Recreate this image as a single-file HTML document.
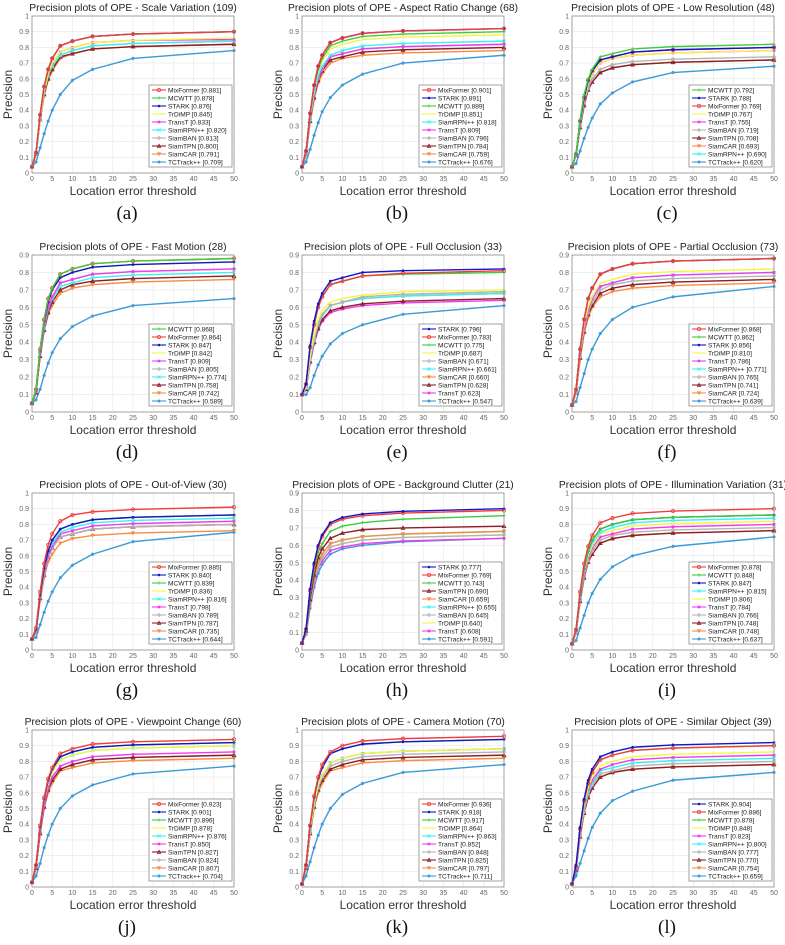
<!DOCTYPE html>
<html><head><meta charset="utf-8"><style>
html,body{margin:0;padding:0;background:#fff;}
svg{display:block;}
</style></head><body>
<svg id="fig" width="785" height="945" viewBox="0 0 785 945" xmlns="http://www.w3.org/2000/svg" font-family="Liberation Sans, sans-serif"></svg>
<script>
const thresholds=[0,1,2,3,4,5,7,10,15,25,50];
const panelTitles=["Scale Variation (109)","Aspect Ratio Change (68)","Low Resolution (48)","Fast Motion (28)","Full Occlusion (33)","Partial Occlusion (73)","Out-of-View (30)","Background Clutter (21)","Illumination Variation (31)","Viewpoint Change (60)","Camera Motion (70)","Similar Object (39)"];
const panelLetters=["(a)","(b)","(c)","(d)","(e)","(f)","(g)","(h)","(i)","(j)","(k)","(l)"];
const panelYMax=[1,1,1,0.9,0.9,0.9,1,0.9,1,1,1,1];

const namesA=["MixFormer","MCWTT","STARK","TrDiMP","TransT","SiamRPN++","SiamBAN","SiamTPN","SiamCAR","TCTrack++"];
const scoresA=[0.881,0.878,0.876,0.845,0.833,0.820,0.813,0.800,0.791,0.709];
const curvesA=[[.04,.13,.37,.55,.66,.73,.81,.84,.87,.885,.90],[.04,.13,.37,.55,.66,.73,.81,.84,.87,.885,.90],[.04,.13,.37,.55,.66,.73,.81,.84,.87,.885,.90],[.04,.13,.35,.52,.63,.70,.77,.80,.83,.845,.86],[.04,.13,.35,.52,.63,.70,.77,.80,.83,.845,.85],[.04,.12,.34,.51,.62,.68,.75,.78,.81,.825,.84],[.04,.12,.34,.51,.62,.68,.75,.78,.81,.825,.84],[.04,.12,.34,.50,.60,.66,.74,.76,.79,.805,.82],[.04,.12,.33,.49,.59,.65,.73,.76,.79,.805,.82],[.04,.07,.16,.25,.33,.40,.50,.59,.66,.73,.78]];

const namesB=["MixFormer","STARK","MCWTT","TrDiMP","SiamRPN++","TransT","SiamBAN","SiamTPN","SiamCAR","TCTrack++"];
const scoresB=[0.901,0.891,0.889,0.851,0.818,0.809,0.796,0.784,0.759,0.676];
const curvesB=[[.04,.14,.38,.56,.68,.75,.83,.86,.89,.905,.92],[.04,.14,.38,.56,.68,.75,.83,.86,.89,.905,.92],[.04,.13,.37,.55,.66,.73,.81,.84,.87,.885,.90],[.04,.13,.36,.53,.65,.71,.79,.82,.85,.865,.88],[.04,.12,.34,.51,.62,.68,.75,.78,.81,.825,.84],[.04,.12,.34,.50,.60,.66,.74,.76,.79,.805,.82],[.04,.12,.34,.50,.60,.66,.74,.76,.79,.805,.82],[.04,.12,.33,.48,.59,.65,.72,.74,.77,.785,.80],[.04,.11,.32,.47,.57,.63,.70,.73,.75,.765,.78],[.04,.07,.15,.24,.32,.39,.48,.56,.63,.70,.75]];

const namesC=["MCWTT","STARK","MixFormer","TrDiMP","TransT","SiamBAN","SiamTPN","SiamCAR","SiamRPN++","TCTrack++"];
const scoresC=[0.792,0.788,0.769,0.767,0.755,0.719,0.708,0.693,0.690,0.620];
const curvesC=[[.04,.12,.34,.50,.60,.66,.74,.76,.79,.805,.82],[.04,.12,.33,.48,.59,.65,.72,.74,.77,.785,.80],[.04,.12,.33,.48,.59,.65,.72,.74,.77,.785,.80],[.04,.11,.32,.47,.57,.63,.70,.73,.75,.765,.78],[.04,.11,.32,.47,.57,.63,.70,.73,.75,.765,.78],[.04,.11,.30,.45,.54,.60,.66,.69,.71,.725,.74],[.04,.11,.29,.43,.53,.58,.64,.67,.69,.705,.72],[.04,.11,.29,.43,.53,.58,.64,.67,.69,.705,.72],[.04,.11,.29,.43,.53,.58,.64,.67,.69,.705,.72],[.04,.06,.14,.22,.29,.35,.44,.51,.58,.64,.68]];

const namesD=["MCWTT","MixFormer","STARK","TrDiMP","TransT","SiamBAN","SiamRPN++","SiamTPN","SiamCAR","TCTrack++"];
const scoresD=[0.868,0.864,0.847,0.842,0.809,0.805,0.774,0.758,0.742,0.589];
const curvesD=[[.05,.13,.36,.53,.65,.71,.79,.82,.85,.865,.88],[.05,.13,.36,.53,.65,.71,.79,.82,.85,.865,.88],[.05,.13,.35,.52,.63,.70,.77,.80,.83,.845,.86],[.05,.13,.35,.52,.63,.70,.77,.80,.83,.845,.86],[.05,.12,.34,.50,.60,.66,.74,.76,.79,.805,.82],[.05,.12,.34,.50,.60,.66,.74,.76,.79,.805,.82],[.05,.12,.33,.48,.59,.65,.72,.74,.77,.785,.80],[.05,.11,.32,.47,.57,.63,.70,.73,.75,.765,.78],[.05,.11,.31,.46,.56,.61,.68,.71,.73,.745,.76],[.05,.07,.13,.21,.28,.34,.42,.49,.55,.61,.65]];

const namesE=["STARK","MixFormer","MCWTT","TrDiMP","SiamBAN","SiamRPN++","SiamCAR","SiamTPN","TransT","TCTrack++"];
const scoresE=[0.796,0.783,0.775,0.687,0.671,0.661,0.660,0.628,0.623,0.547];
const curvesE=[[.10,.16,.38,.52,.62,.68,.75,.77,.80,.81,.82],[.10,.16,.37,.50,.60,.66,.73,.75,.78,.795,.81],[.10,.16,.37,.50,.60,.66,.73,.75,.78,.79,.80],[.10,.14,.32,.44,.53,.58,.63,.65,.67,.69,.70],[.10,.14,.31,.42,.51,.56,.61,.63,.66,.675,.69],[.10,.14,.30,.41,.50,.55,.61,.63,.65,.665,.68],[.10,.14,.30,.41,.50,.55,.61,.63,.65,.665,.68],[.10,.13,.29,.40,.48,.53,.58,.60,.62,.635,.65],[.10,.13,.28,.39,.47,.52,.57,.59,.61,.625,.64],[.10,.10,.14,.21,.27,.32,.39,.45,.50,.56,.61]];

const namesF=["MixFormer","MCWTT","STARK","TrDiMP","TransT","SiamRPN++","SiamBAN","SiamTPN","SiamCAR","TCTrack++"];
const scoresF=[0.868,0.862,0.856,0.810,0.786,0.771,0.765,0.741,0.724,0.639];
const curvesF=[[.04,.13,.36,.53,.65,.71,.79,.82,.85,.865,.88],[.04,.13,.36,.53,.65,.71,.79,.82,.85,.865,.88],[.04,.13,.36,.53,.65,.71,.79,.82,.85,.865,.88],[.04,.12,.34,.50,.60,.66,.74,.76,.79,.805,.82],[.04,.12,.33,.48,.59,.65,.72,.74,.77,.785,.80],[.04,.12,.33,.48,.59,.65,.72,.74,.77,.785,.80],[.04,.11,.32,.47,.57,.63,.70,.73,.75,.765,.78],[.04,.11,.31,.46,.56,.61,.68,.71,.73,.745,.76],[.04,.11,.30,.45,.54,.60,.66,.69,.71,.725,.74],[.04,.06,.14,.22,.30,.36,.45,.53,.60,.66,.72]];

const namesG=["MixFormer","STARK","MCWTT","TrDiMP","SiamRPN++","TransT","SiamBAN","SiamTPN","SiamCAR","TCTrack++"];
const scoresG=[0.885,0.840,0.839,0.836,0.816,0.798,0.789,0.787,0.735,0.644];
const curvesG=[[.07,.14,.37,.55,.67,.74,.82,.86,.88,.895,.91],[.07,.13,.35,.52,.63,.70,.77,.80,.83,.845,.86],[.07,.13,.35,.52,.63,.70,.77,.80,.83,.845,.86],[.07,.13,.35,.52,.63,.70,.77,.80,.83,.845,.86],[.07,.12,.34,.51,.62,.68,.75,.78,.81,.825,.84],[.07,.12,.34,.50,.60,.66,.74,.76,.79,.805,.82],[.07,.12,.33,.48,.59,.65,.72,.74,.77,.785,.80],[.07,.12,.33,.48,.59,.65,.72,.74,.77,.785,.80],[.07,.11,.31,.46,.56,.61,.68,.71,.73,.745,.76],[.07,.08,.16,.24,.31,.37,.46,.54,.61,.69,.75]];

const namesH=["STARK","MixFormer","MCWTT","SiamTPN","SiamCAR","SiamRPN++","SiamBAN","TrDiMP","TransT","TCTrack++"];
const scoresH=[0.777,0.769,0.743,0.690,0.659,0.655,0.645,0.640,0.608,0.591];
const curvesH=[[.04,.12,.35,.50,.60,.66,.73,.76,.78,.795,.81],[.04,.12,.34,.49,.59,.65,.72,.75,.77,.785,.80],[.04,.11,.32,.46,.56,.61,.68,.71,.73,.75,.77],[.04,.11,.29,.43,.53,.58,.64,.67,.69,.70,.71],[.04,.10,.28,.41,.50,.55,.61,.63,.65,.665,.68],[.04,.10,.28,.41,.50,.55,.61,.63,.65,.665,.68],[.04,.10,.27,.40,.48,.53,.59,.61,.63,.645,.66],[.04,.10,.27,.40,.48,.53,.59,.61,.63,.645,.66],[.04,.09,.26,.38,.47,.51,.57,.59,.61,.625,.64],[.04,.09,.24,.36,.44,.49,.55,.58,.60,.62,.64]];

const namesI=["MixFormer","MCWTT","STARK","SiamRPN++","TrDiMP","TransT","SiamBAN","SiamTPN","SiamCAR","TCTrack++"];
const scoresI=[0.878,0.848,0.847,0.815,0.806,0.784,0.766,0.748,0.748,0.637];
const curvesI=[[.04,.13,.37,.55,.66,.73,.81,.84,.87,.885,.90],[.04,.13,.35,.52,.63,.70,.77,.80,.83,.845,.86],[.04,.13,.35,.52,.63,.70,.77,.80,.83,.845,.86],[.04,.12,.34,.51,.62,.68,.75,.78,.81,.825,.84],[.04,.12,.34,.50,.60,.66,.74,.76,.79,.805,.82],[.04,.12,.33,.48,.59,.65,.72,.74,.77,.785,.80],[.04,.11,.32,.47,.57,.63,.70,.73,.75,.765,.78],[.04,.11,.31,.46,.56,.61,.68,.71,.73,.745,.76],[.04,.11,.31,.46,.56,.61,.68,.71,.73,.745,.76],[.04,.06,.14,.22,.30,.36,.45,.53,.60,.66,.72]];

const namesJ=["MixFormer","STARK","MCWTT","TrDiMP","SiamRPN++","TransT","SiamTPN","SiamBAN","SiamCAR","TCTrack++"];
const scoresJ=[0.923,0.901,0.896,0.878,0.876,0.850,0.827,0.824,0.807,0.704];
const curvesJ=[[.03,.14,.39,.57,.69,.76,.85,.88,.91,.925,.94],[.03,.14,.38,.56,.68,.75,.83,.86,.89,.905,.92],[.03,.14,.38,.56,.68,.75,.83,.86,.89,.905,.92],[.03,.13,.37,.55,.66,.73,.81,.84,.87,.885,.90],[.03,.13,.37,.55,.66,.73,.81,.84,.87,.885,.90],[.03,.13,.35,.52,.63,.70,.77,.80,.83,.845,.86],[.03,.12,.34,.51,.62,.68,.75,.78,.81,.825,.84],[.03,.12,.34,.51,.62,.68,.75,.78,.81,.825,.84],[.03,.12,.34,.50,.60,.66,.74,.76,.79,.805,.82],[.03,.07,.15,.25,.33,.40,.50,.58,.65,.72,.77]];

const namesK=["MixFormer","STARK","MCWTT","TrDiMP","SiamRPN++","TransT","SiamBAN","SiamTPN","SiamCAR","TCTrack++"];
const scoresK=[0.936,0.918,0.917,0.864,0.863,0.852,0.848,0.825,0.797,0.711];
const curvesK=[[.02,.14,.39,.58,.70,.78,.86,.90,.93,.945,.96],[.02,.14,.39,.57,.69,.76,.85,.88,.91,.925,.94],[.02,.14,.39,.57,.69,.76,.85,.88,.91,.925,.94],[.02,.13,.36,.53,.65,.71,.79,.82,.85,.865,.88],[.02,.13,.36,.53,.65,.71,.79,.82,.85,.865,.88],[.02,.13,.36,.53,.65,.71,.79,.82,.85,.865,.88],[.02,.13,.35,.52,.63,.70,.77,.80,.83,.845,.86],[.02,.12,.34,.51,.62,.68,.75,.78,.81,.825,.84],[.02,.12,.34,.50,.60,.66,.74,.76,.79,.805,.82],[.02,.07,.16,.25,.33,.40,.50,.59,.66,.73,.78]];

const namesL=["STARK","MixFormer","MCWTT","TrDiMP","TransT","SiamRPN++","SiamBAN","SiamTPN","SiamCAR","TCTrack++"];
const scoresL=[0.904,0.886,0.878,0.848,0.823,0.800,0.777,0.770,0.754,0.659];
const curvesL=[[.02,.14,.38,.56,.68,.75,.83,.86,.89,.905,.92],[.02,.13,.37,.55,.66,.73,.81,.84,.87,.885,.90],[.02,.13,.37,.55,.66,.73,.81,.84,.87,.885,.90],[.02,.13,.35,.52,.63,.70,.77,.80,.83,.845,.86],[.02,.12,.34,.51,.62,.68,.75,.78,.81,.825,.84],[.02,.12,.34,.50,.60,.66,.74,.76,.79,.805,.82],[.02,.12,.33,.48,.59,.65,.72,.74,.77,.785,.80],[.02,.11,.32,.47,.57,.63,.70,.73,.75,.765,.78],[.02,.11,.32,.47,.57,.63,.70,.73,.75,.765,.78],[.02,.07,.15,.23,.31,.38,.47,.55,.61,.68,.73]];

const xTicks=[0,5,10,15,20,25,30,35,40,45,50];

const styles={
 "MixFormer":{c:"#f03c3c",m:"o"},
 "MCWTT":{c:"#3ccc3c",m:"+"},
 "STARK":{c:"#1414c8",m:"."},
 "TrDiMP":{c:"#f5f53c",m:"none"},
 "TransT":{c:"#f03cf0",m:"s"},
 "SiamRPN++":{c:"#3cf0f0",m:"x"},
 "SiamBAN":{c:"#b4b4b4",m:"d"},
 "SiamTPN":{c:"#8c1e28",m:"^"},
 "SiamCAR":{c:"#f58c46",m:"v"},
 "TCTrack++":{c:"#3c9ad8",m:"*"}
};

const panels=[
 [namesA,scoresA,curvesA],[namesB,scoresB,curvesB],[namesC,scoresC,curvesC],
 [namesD,scoresD,curvesD],[namesE,scoresE,curvesE],[namesF,scoresF,curvesF],
 [namesG,scoresG,curvesG],[namesH,scoresH,curvesH],[namesI,scoresI,curvesI],
 [namesJ,scoresJ,curvesJ],[namesK,scoresK,curvesK],[namesL,scoresL,curvesL]];

const NS="http://www.w3.org/2000/svg";
const fig=document.getElementById("fig");
function mk(tag,attrs,parent,text){
  const e=document.createElementNS(NS,tag);
  for(const k in attrs) e.setAttribute(k,attrs[k]);
  if(text!==undefined) e.textContent=text;
  parent.appendChild(e);return e;
}
function marker(g,type,x,y,c,r){
  let e=null;
  if(type==="o") e=mk("circle",{cx:x,cy:y,r:r,fill:"none",stroke:c,"stroke-width":0.8},g);
  else if(type===".") e=mk("circle",{cx:x,cy:y,r:r*0.8,fill:c},g);
  else if(type==="+") e=mk("path",{d:`M${x-r} ${y}H${x+r}M${x} ${y-r}V${y+r}`,stroke:c,"stroke-width":0.8},g);
  else if(type==="x") e=mk("path",{d:`M${x-r} ${y-r}L${x+r} ${y+r}M${x-r} ${y+r}L${x+r} ${y-r}`,stroke:c,"stroke-width":0.8},g);
  else if(type==="s") e=mk("rect",{x:x-r*0.8,y:y-r*0.8,width:r*1.6,height:r*1.6,fill:c},g);
  else if(type==="d") e=mk("path",{d:`M${x} ${y-r}L${x+r} ${y}L${x} ${y+r}L${x-r} ${y}Z`,fill:"none",stroke:c,"stroke-width":0.8},g);
  else if(type==="^") e=mk("path",{d:`M${x} ${y-r}L${x+r} ${y+r*0.8}L${x-r} ${y+r*0.8}Z`,fill:"none",stroke:c,"stroke-width":0.9},g);
  else if(type==="v") e=mk("path",{d:`M${x} ${y+r}L${x+r} ${y-r*0.8}L${x-r} ${y-r*0.8}Z`,fill:c,stroke:c,"stroke-width":0.6},g);
  else if(type==="*") e=mk("path",{d:`M${x-r} ${y}H${x+r}M${x} ${y-r}V${y+r}M${x-r*0.7} ${y-r*0.7}L${x+r*0.7} ${y+r*0.7}M${x-r*0.7} ${y+r*0.7}L${x+r*0.7} ${y-r*0.7}`,stroke:c,"stroke-width":0.8},g);
  if(e){}
}

const rowBottoms=[173,412,650,887];
const PW=202, PH=157;
panels.forEach((p,i)=>{
  const col=i%3,row=Math.floor(i/3);
  const ox=32+270*col, y0=rowBottoms[row], ymax=panelYMax[i];
  const xs=v=>ox+v/50*PW;
  const ys=v=>y0-v/ymax*PH;
  const g=mk("g",{},fig);
  
  
  mk("rect",{x:ox,y:y0-PH,width:PW,height:PH,fill:"#fff"},g);
  xTicks.forEach(t=>{
    mk("line",{x1:xs(t),x2:xs(t),y1:y0-PH,y2:y0,stroke:"#e6e6e6","stroke-width":0.6},g);
    const tl=mk("text",{x:xs(t),y:y0+8,"font-size":7,fill:"#666","text-anchor":"middle"},g,String(t));
    
  });
  const nY=Math.round(ymax*10);
  for(let k=0;k<=nY;k++){
    const v=k/10;
    mk("line",{x1:ox,x2:ox+PW,y1:ys(v),y2:ys(v),stroke:"#e6e6e6","stroke-width":0.6},g);
    const tl=mk("text",{x:ox-3,y:ys(v)+2.5,"font-size":7,fill:"#666","text-anchor":"end"},g,k===0?"0":(k===10?"1":v.toFixed(1)));
    
  }
  const names=p[0],scores=p[1],curves=p[2];
  for(let s=names.length-1;s>=0;s--){
    const st=styles[names[s]];
    const sg=mk("g",{},g);
    
    
    const pts=curves[s].map((v,j)=>xs(thresholds[j])+","+ys(v)).join(" ");
    mk("polyline",{points:pts,fill:"none",stroke:st.c,"stroke-width":1.4},sg);
    curves[s].forEach((v,j)=>marker(sg,st.m,xs(thresholds[j]),ys(v),st.c,1.7));
  }
  mk("rect",{x:ox,y:y0-PH,width:PW,height:PH,fill:"none",stroke:"#808080","stroke-width":0.7},g);
  const t=mk("text",{x:ox+PW/2,y:y0-PH-5,"font-size":10.3,fill:"#222","text-anchor":"middle"},g,"Precision plots of OPE - "+panelTitles[i]);
  
  const yl=mk("text",{x:0,y:0,"font-size":12,fill:"#333","text-anchor":"middle",transform:`translate(${ox-20},${y0-PH/2}) rotate(-90)`},g,"Precision");
  
  const xl=mk("text",{x:ox+PW/2,y:y0+22,"font-size":12,fill:"#333","text-anchor":"middle"},g,"Location error threshold");
  
  const pl=mk("text",{x:ox+PW/2-6,y:y0+46,"font-size":19,fill:"#111","text-anchor":"middle","font-family":"Liberation Serif, serif"},g,panelLetters[i]);
  
  const lx=ox+117, ly=y0-88, lw=83, lh=82;
  const lg=mk("g",{},g);
  
  mk("rect",{x:lx,y:ly,width:lw,height:lh,fill:"#fff",stroke:"#666","stroke-width":0.6},lg);
  names.forEach((n,s)=>{
    const st=styles[n];const yy=ly+5+s*8;
    const eg=mk("g",{},lg);
    
    mk("line",{x1:lx+3,x2:lx+17,y1:yy,y2:yy,stroke:st.c,"stroke-width":1.1},eg);
    marker(eg,st.m,lx+10,yy,st.c,1.6);
    mk("text",{x:lx+19,y:yy+2.4,"font-size":6.6,fill:"#222"},eg,n+" ["+scores[s].toFixed(3)+"]");
  });
});
</script>
</body></html>
